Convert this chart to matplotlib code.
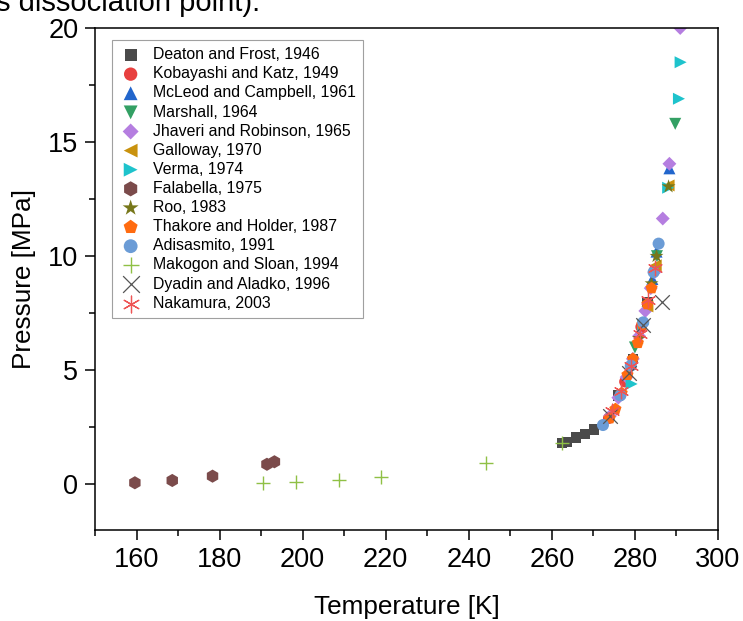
import matplotlib
matplotlib.use("Agg")
import matplotlib.pyplot as plt
from matplotlib.ticker import MultipleLocator

plt.rcParams['font.family'] = ['Liberation Sans', 'DejaVu Sans']

# ---------------- data ----------------
deaton_T = [262.4, 263.6, 265.8, 268.0, 270.2, 276.0, 279.5, 283.0]
deaton_P = [1.80, 1.87, 2.05, 2.22, 2.40, 3.90, 5.50, 8.00]

kobayashi_T = [273.7, 277.6, 281.5, 284.8]
kobayashi_P = [2.90, 4.50, 6.90, 9.40]

mcleod_T = [284.2, 285.2, 288.3]
mcleod_P = [9.00, 10.20, 13.85]

marshall_T = [280.0, 285.3, 289.7]
marshall_P = [6.00, 10.00, 15.80]

jhaveri_T = [274.0, 276.0, 278.0, 279.5, 281.0, 282.5, 283.8, 284.7, 286.7, 288.3, 290.9]
jhaveri_P = [3.00, 3.80, 4.70, 5.50, 6.50, 7.60, 8.60, 9.30, 11.65, 14.05, 20.0]

galloway_T = [283.0, 285.0, 288.1]
galloway_P = [7.80, 9.60, 13.10]

verma_T = [279.2, 282.0, 288.0, 290.6, 291.0]
verma_P = [4.40, 7.00, 13.00, 16.90, 18.50]

falabella_T = [159.6, 168.6, 178.3, 191.4, 193.2]
falabella_P = [0.07, 0.17, 0.36, 0.88, 0.99]

roo_T = [281.0, 284.0, 285.2, 288.1]
roo_P = [6.40, 8.80, 10.00, 13.05]

thakore_T = [273.9, 275.3, 276.8, 278.2, 279.5, 280.7, 281.8, 283.0, 284.0]
thakore_P = [2.90, 3.30, 4.00, 4.80, 5.50, 6.20, 7.00, 7.90, 8.60]

adisasmito_T = [272.3, 276.5, 279.0, 282.0, 284.5, 285.7]
adisasmito_P = [2.60, 3.90, 5.20, 7.10, 9.30, 10.55]

makogon_T = [190.4, 198.5, 208.8, 218.8, 244.1, 262.4]
makogon_P = [0.07, 0.11, 0.18, 0.32, 0.92, 1.80]

dyadin_T = [274.0, 278.5, 282.0, 286.5]
dyadin_P = [3.00, 4.90, 7.00, 8.00]

nakamura_T = [274.5, 276.7, 279.0, 281.2, 283.2, 284.8]
nakamura_P = [3.20, 4.10, 5.20, 6.60, 8.10, 9.50]

labels = ["Deaton and Frost, 1946", "Kobayashi and Katz, 1949",
          "McLeod and Campbell, 1961", "Marshall, 1964",
          "Jhaveri and Robinson, 1965", "Galloway, 1970", "Verma, 1974",
          "Falabella, 1975", "Roo, 1983", "Thakore and Holder, 1987",
          "Adisasmito, 1991", "Makogon and Sloan, 1994",
          "Dyadin and Aladko, 1996", "Nakamura, 2003"]

# ---------------- figure ----------------
fig = plt.figure(figsize=(7.43, 6.21), dpi=100)
ax = fig.add_axes([95/743, 1-530/621, 623/743, 502/621])

series = [
    (deaton_T, deaton_P, dict(marker='s', color='#4a4a4a', s=55)),
    (kobayashi_T, kobayashi_P, dict(marker='o', color='#e8403f', s=70)),
    (mcleod_T, mcleod_P, dict(marker='^', color='#2266cc', s=75)),
    (marshall_T, marshall_P, dict(marker='v', color='#33a064', s=75)),
    (jhaveri_T, jhaveri_P, dict(marker='D', color='#b57ee0', s=50)),
    (galloway_T, galloway_P, dict(marker='<', color='#c9920e', s=75)),
    (verma_T, verma_P, dict(marker='>', color='#1ec3cc', s=75)),
    (falabella_T, falabella_P, dict(marker='h', color='#7b4b4b', s=90)),
    (roo_T, roo_P, dict(marker='*', color='#77771a', s=110)),
    (thakore_T, thakore_P, dict(marker='p', color='#ff6b10', s=85)),
    (adisasmito_T, adisasmito_P, dict(marker='o', color='#6b9cd6', s=75)),
    (makogon_T, makogon_P, dict(marker='+', color='#8fc045', s=110, linewidths=1.0)),
    (dyadin_T, dyadin_P, dict(marker='x', color='#555555', s=110, linewidths=0.9)),
    (nakamura_T, nakamura_P, dict(marker=(6, 2, 0), color='#ee5555', s=110, linewidths=0.9)),
]

for (T, P, kw), lab in zip(series, labels):
    ax.scatter(T, P, label=lab, edgecolors='none' if kw['marker'] not in ('+', 'x', (6, 2, 0)) else None, **kw)

ax.set_xlim(150, 300)
ax.set_ylim(-2, 20)
ax.xaxis.set_major_locator(MultipleLocator(20))
ax.xaxis.set_minor_locator(MultipleLocator(10))
ax.yaxis.set_major_locator(MultipleLocator(5))
ax.yaxis.set_minor_locator(MultipleLocator(2.5))
ax.set_xticks(range(160, 301, 20))
ax.tick_params(which='major', direction='out', length=7, width=1.1, labelsize=19.5, pad=5)
ax.tick_params(which='minor', direction='out', length=4, width=1.1)
for sp in ax.spines.values():
    sp.set_linewidth(1.1)

ax.set_xlabel("Temperature [K]", fontsize=18.8, labelpad=16)
ax.set_ylabel("Pressure [MPa]", fontsize=18.8, labelpad=9)

leg = ax.legend(loc='upper left', bbox_to_anchor=(0.028, 0.976), borderaxespad=0,
                fontsize=11.4, frameon=True, fancybox=False, handletextpad=0.7,
                labelspacing=0.26, borderpad=0.45, handlelength=1.4,
                scatterpoints=1, markerscale=1.15)
leg.get_frame().set_edgecolor('#888888')
leg.get_frame().set_linewidth(0.8)

fig.text(-0.005, 1-11/621, "s dissociation point).", fontsize=21, va='baseline', ha='left')

fig.savefig("out.png", dpi=100)
